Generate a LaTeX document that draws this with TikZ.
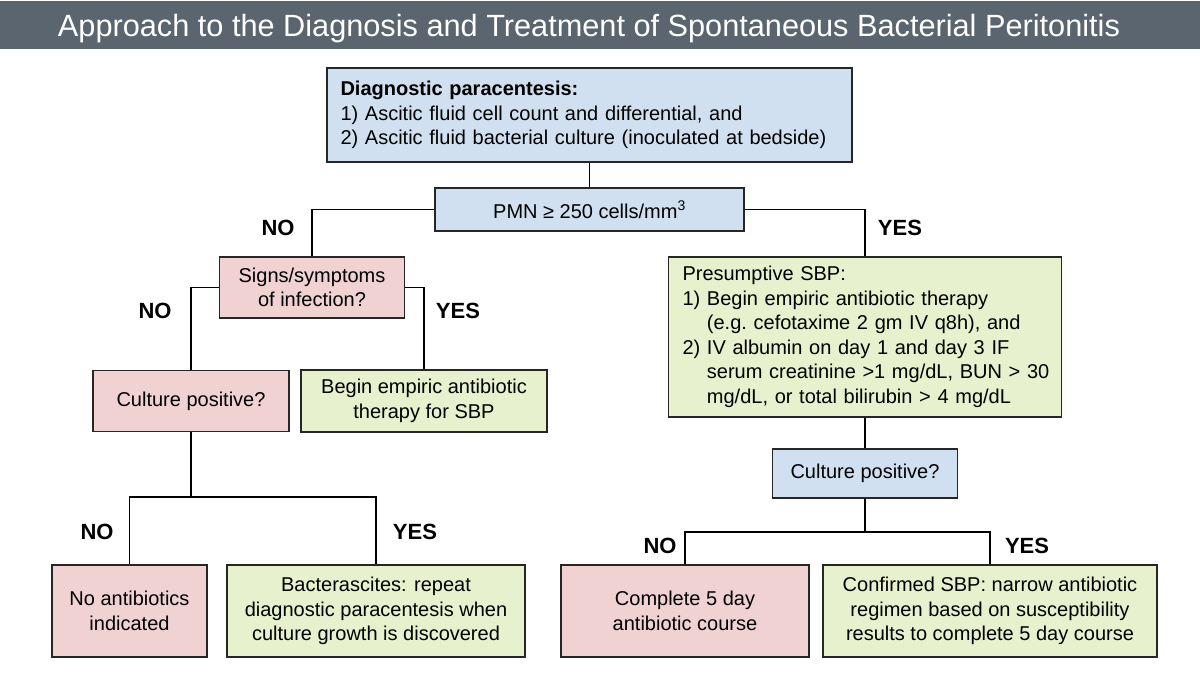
\documentclass[tikz,border=0pt]{standalone}
\usepackage{fontspec}
\setmainfont{Liberation Sans}
\newfontfamily\titlefont{Liberation Sans}
\usepackage{tikz}

\definecolor{barcol}{RGB}{91,101,111}
\definecolor{bluefill}{RGB}{208,224,240}
\definecolor{pinkfill}{RGB}{240,210,211}
\definecolor{greenfill}{RGB}{232,241,205}

\begin{document}
\begin{tikzpicture}[x=1pt,y=-1pt,line width=1.3pt,
  box/.style={draw=black!85,inner sep=0pt,align=center,font=\fontsize{20}{24.5}\selectfont},
  bluebox/.style={box,fill=bluefill},
  pinkbox/.style={box,fill=pinkfill},
  greenbox/.style={box,fill=greenfill},
  lbl/.style={font=\fontsize{22}{24}\selectfont\bfseries}]
\useasboundingbox (0,0) rectangle (1200,687);
\fill[barcol] (0,1) rectangle (1200,49);
\node[anchor=base,text=white,inner sep=0pt,font=\titlefont\fontsize{30.7}{34}\selectfont] (title) at (589,37) {Approach to the Diagnosis and Treatment of Spontaneous Bacterial Peritonitis};

\node[bluebox,align=left,text width=498pt,minimum width=525pt,minimum height=94pt] (para) at (589.5,115)
  {\textbf{Diagnostic paracentesis:}\\
   \mbox{1) Ascitic fluid cell count and differential, and}\\
   \mbox{2) Ascitic fluid bacterial culture (inoculated at bedside)}};
\node[bluebox,minimum width=309pt,minimum height=43pt] (pmn) at (589.5,209.5) {PMN ≥ 250 cells/mm\textsuperscript{3}};

\node[pinkbox,minimum width=185pt,minimum height=61pt] (signs) at (312,287.5) {Signs/symptoms\\of infection?};
\node[pinkbox,minimum width=196pt,minimum height=61pt] (cultl) at (191,401) {Culture positive?};
\node[greenbox,minimum width=246pt,minimum height=62pt] (begin) at (424,401) {Begin empiric antibiotic\\therapy for SBP};
\node[pinkbox,minimum width=155pt,minimum height=92pt] (noabx) at (129.5,611) {No antibiotics\\indicated};
\node[greenbox,minimum width=298pt,minimum height=92pt] (bacter) at (376,611)
  {Bacterascites: repeat\\diagnostic paracentesis when\\culture growth is discovered};

\node[greenbox,align=left,text width=365pt,minimum width=393pt,minimum height=160pt] (presum) at (865,337)
  {Presumptive SBP:\\
   \mbox{1) Begin empiric antibiotic therapy}\\
   \mbox{\phantom{1) }(e.g.\ cefotaxime 2 gm IV q8h), and}\\
   \mbox{2) IV albumin on day 1 and day 3 IF}\\
   \mbox{\phantom{2) }serum creatinine >1 mg/dL, BUN > 30}\\
   \mbox{\phantom{2) }mg/dL, or total bilirubin > 4 mg/dL}};
\node[bluebox,minimum width=185pt,minimum height=49pt] (cultr) at (865,473.5) {Culture positive?};
\node[pinkbox,minimum width=248pt,minimum height=92pt] (compl) at (685,611) {Complete 5 day\\antibiotic course};
\node[greenbox,minimum width=334pt,minimum height=92pt] (confirm) at (990,611)
  {Confirmed SBP: narrow antibiotic\\regimen based on susceptibility\\results to complete 5 day course};

\coordinate (splitl) at (191,497);
\coordinate (splitr) at (865,532);

\draw (para) -- (pmn);
\draw (pmn.west) -| (signs.north);
\draw (pmn.east) -| (presum.north);
\draw (signs.west) -| (cultl.north);
\draw (signs.east) -| (begin.north);
\draw (cultl.south) -- (splitl) -| (noabx.north);
\draw (splitl) -| (bacter.north);
\draw (presum.south) -- (cultr.north);
\draw (cultr.south) -- (splitr) -| (compl.north);
\draw (splitr) -| (confirm.north);

\node[lbl] (no1) at (278,228) {NO};
\node[lbl] (yes1) at (900,228) {YES};
\node[lbl] (no2) at (155,311) {NO};
\node[lbl] (yes2) at (458,311) {YES};
\node[lbl] (no3) at (97,532) {NO};
\node[lbl] (yes3) at (415,532) {YES};
\node[lbl] (no4) at (660,546) {NO};
\node[lbl] (yes4) at (1027,546) {YES};
\end{tikzpicture}
\end{document}
